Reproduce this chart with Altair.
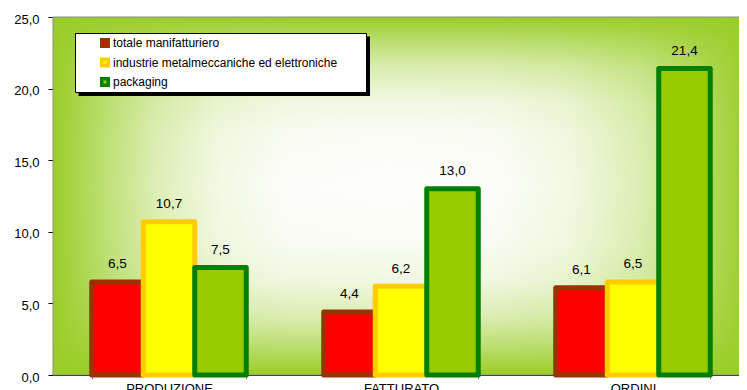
import altair as alt
import pandas as pd

categories = ["PRODUZIONE", "FATTURATO", "ORDINI"]
series = ["totale manifatturiero", "industrie metalmeccaniche ed elettroniche", "packaging"]
totale = [6.5, 4.4, 6.1]
metalmecc = [10.7, 6.2, 6.5]
packaging = [7.5, 13.0, 21.4]
y_ticks = [0, 5, 10, 15, 20, 25]

fill_colors = ["#FF0000", "#FFFF00", "#99CC00"]
stroke_colors = ["#993300", "#FFCC00", "#008000"]

rows = []
for s, vals in zip(series, [totale, metalmecc, packaging]):
    for c, v in zip(categories, vals):
        rows.append({"categoria": c, "serie": s, "valore": v})
df = pd.DataFrame(rows)
one = pd.DataFrame({"k": [0]})

W, H = 686, 358
XR = 696  # full category span (plot continues past the window edge)
FONT = "Liberation Sans"

# "from centre" rectangular gradient: horizontal white/green ramp + vertical green veil
hgrad = {
    "gradient": "linear", "x1": 0, "y1": 0, "x2": 1, "y2": 0,
    "stops": [
        {"offset": 0.0, "color": "#9ACD28"},
        {"offset": 0.072, "color": "#BDDF73"},
        {"offset": 0.144, "color": "#DCEEB4"},
        {"offset": 0.24, "color": "#F3F9E5"},
        {"offset": 0.336, "color": "#FCFDF9"},
        {"offset": 0.48, "color": "#FDFEFB"},
        {"offset": 0.636, "color": "#FCFDF9"},
        {"offset": 0.74, "color": "#F3F9E5"},
        {"offset": 0.844, "color": "#DCEEB4"},
        {"offset": 0.922, "color": "#BDDF73"},
        {"offset": 1.0, "color": "#9ACD28"},
    ],
}
vgrad = {
    "gradient": "linear", "x1": 0, "y1": 0, "x2": 0, "y2": 1,
    "stops": [
        {"offset": 0.0, "color": "rgba(154,205,40,1)"},
        {"offset": 0.07, "color": "rgba(154,205,40,0.65)"},
        {"offset": 0.141, "color": "rgba(154,205,40,0.35)"},
        {"offset": 0.235, "color": "rgba(154,205,40,0.12)"},
        {"offset": 0.329, "color": "rgba(154,205,40,0.03)"},
        {"offset": 0.47, "color": "rgba(154,205,40,0)"},
        {"offset": 0.629, "color": "rgba(154,205,40,0.03)"},
        {"offset": 0.735, "color": "rgba(154,205,40,0.12)"},
        {"offset": 0.841, "color": "rgba(154,205,40,0.35)"},
        {"offset": 0.92, "color": "rgba(154,205,40,0.65)"},
        {"offset": 1.0, "color": "rgba(154,205,40,1)"},
    ],
}

bg_h = alt.Chart(one).mark_rect(fill=hgrad).encode(
    x=alt.value(0), x2=alt.value(XR), y=alt.value(0), y2=alt.value(H)
)
bg_v = alt.Chart(one).mark_rect(fill=vgrad, stroke="#8C8C8C", strokeWidth=1).encode(
    x=alt.value(0), x2=alt.value(XR), y=alt.value(0), y2=alt.value(H)
)
shadow = alt.Chart(one).mark_rect(fill="#000000").encode(
    x=alt.value(25.5), x2=alt.value(317), y=alt.value(19.5), y2=alt.value(79)
)
box = alt.Chart(one).mark_rect(fill="#FFFFFF", stroke="#000000", strokeWidth=1).encode(
    x=alt.value(22.5), x2=alt.value(313.5), y=alt.value(16.5), y2=alt.value(75.5)
)

xscale = alt.Scale(paddingInner=0.334, paddingOuter=0.167, range=[0, XR])
xenc = alt.X(
    "categoria:N",
    sort=categories,
    scale=xscale,
    axis=alt.Axis(
        title=None, labelAngle=0, tickBand="extent", labelFont=FONT, labelFontSize=13,
        labelColor="#000000", domainColor="#000000", tickColor="#808080", tickSize=4,
        labelPadding=3, labelBaseline="top",
    ),
)
yenc = alt.Y(
    "valore:Q",
    scale=alt.Scale(domain=[0, 25], nice=False),
    axis=alt.Axis(
        title=None, values=y_ticks, grid=False,
        labelExpr="replace(format(datum.value, '.1f'), '.', ',')",
        labelFont=FONT, labelFontSize=13, labelColor="#000000",
        domainColor="#000000", tickColor="#000000", tickSize=5, labelPadding=9,
        labelOffset=2,
    ),
)
xoff = alt.XOffset("serie:N", sort=series, scale=alt.Scale(paddingInner=0, paddingOuter=0))

leg = alt.Legend(
    title=None, orient="none", legendX=46, legendY=20, padding=0, direction="vertical",
    labelFont=FONT, labelFontSize=12, labelColor="#000000", symbolType="square",
    symbolSize=42, symbolStrokeWidth=3.5, rowPadding=7.5, clipHeight=12, labelOffset=2,
    symbolOpacity=1, labelLimit=400,
)

bars = alt.Chart(df).mark_bar(strokeWidth=5, strokeJoin="round").encode(
    x=xenc,
    xOffset=xoff,
    y=yenc,
    fill=alt.Fill("serie:N", scale=alt.Scale(domain=series, range=fill_colors), legend=leg),
    stroke=alt.Stroke("serie:N", scale=alt.Scale(domain=series, range=stroke_colors), legend=leg),
)

labels = alt.Chart(df).transform_calculate(
    etichetta="replace(format(datum.valore, '.1f'), '.', ',')"
).mark_text(dy=-13.5, baseline="alphabetic", font=FONT, fontSize=13.5, color="#000000").encode(
    x=alt.X("categoria:N", sort=categories),
    xOffset=alt.XOffset("serie:N", sort=series),
    y=alt.Y("valore:Q"),
    text="etichetta:N",
)

chart = alt.layer(bg_h, bg_v, shadow, box, bars, labels).properties(
    width=W, height=H,
    padding={"left": 45, "top": 9, "right": 0, "bottom": 30},
    autosize=alt.AutoSizeParams(type="none"),
    background="#FFFFFF",
).configure_view(strokeWidth=0)

chart.save("out.html", embed_options={"renderer": "svg", "actions": False})
